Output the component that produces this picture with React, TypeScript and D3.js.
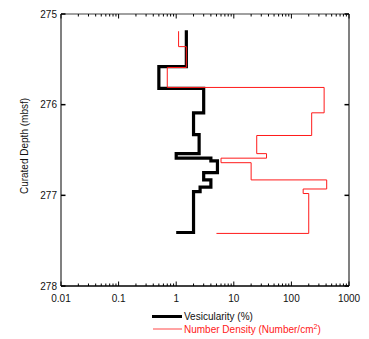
import React from "react";
import * as d3 from "d3";

// depth (mbsf) and vesicularity (%) - step profile
const vesDepth = [275.18, 275.58, 275.82, 276.09, 276.33, 276.54, 276.59, 276.62, 276.75, 276.83, 276.91, 276.96, 277.41];
const vesValue = [1.5, 0.5, 3, 2, 2.5, 1, 4, 5.2, 3, 4, 2.6, 2, 1];

// depth (mbsf) and number density (number/cm2)
const ndDepth = [275.19, 275.36, 275.59, 275.81, 276.09, 276.34, 276.54, 276.59, 276.64, 276.83, 276.93, 276.98, 277.42];
const ndValue = [1.1, 1.5, 0.7, 370, 225, 25, 37, 6, 20, 410, 160, 200, 5];

const xTicks = [0.01, 0.1, 1, 10, 100, 1000];
const xTickLabels = ["0.01", "0.1", "1", "10", "100", "1000"];
const yTicks = [275, 276, 277, 278];

const W = 369;
const H = 339;
const FONT = "'Liberation Sans', Arial, Helvetica, sans-serif";

export default function App() {
  const x = d3.scaleLog().domain([0.01, 1000]).range([61, 349]);
  const y = d3.scaleLinear().domain([275, 278]).range([14, 286]);

  const line = d3
    .line<[number, number]>()
    .x((d) => x(d[0]))
    .y((d) => y(d[1]))
    .curve(d3.curveStepBefore);

  const ves = line(vesValue.map((v, i) => [v, vesDepth[i]] as [number, number])) || "";
  const nd = line(ndValue.map((v, i) => [v, ndDepth[i]] as [number, number])) || "";

  // minor ticks on the log axis
  const minor: number[] = [];
  for (let e = -2; e < 3; e++) {
    for (let m = 2; m <= 9; m++) minor.push(m * Math.pow(10, e));
  }

  const [x0, x1] = x.range();
  const [y0, y1] = y.range();

  return (
    <svg
      width={W}
      height={H}
      style={{ position: "absolute", left: 0, top: 0, background: "#fff" }}
      fontFamily={FONT}
    >
      {/* frame */}
      <line x1={x0} x2={x0} y1={y0} y2={y1} stroke="#808080" strokeWidth={2} />
      <line x1={x1} x2={x1} y1={y0} y2={y1} stroke="#808080" strokeWidth={2} />
      <line x1={x0} x2={x1} y1={y0} y2={y0} stroke="#808080" strokeWidth={1.5} />
      <line x1={x0} x2={x1} y1={y1} y2={y1} stroke="#000" strokeWidth={1.5} />

      {/* x ticks top and bottom */}
      {minor.map((t) => (
        <g key={"m" + t}>
          <line x1={x(t)} x2={x(t)} y1={y0} y2={y0 + 2.5} stroke="#000" strokeWidth={1} />
          <line x1={x(t)} x2={x(t)} y1={y1} y2={y1 - 2.5} stroke="#000" strokeWidth={1} />
        </g>
      ))}
      {xTicks.map((t, i) => (
        <g key={"x" + t}>
          <line x1={x(t)} x2={x(t)} y1={y0} y2={y0 + 4.5} stroke="#000" strokeWidth={1} />
          <line x1={x(t)} x2={x(t)} y1={y1} y2={y1 - 4.5} stroke="#000" strokeWidth={1} />
          <text x={x(t)} y={y1 + 16} textAnchor="middle" fontSize={10} fill="#111">
            {xTickLabels[i]}
          </text>
        </g>
      ))}

      {/* y ticks */}
      {yTicks.map((t) => (
        <g key={"y" + t}>
          <line x1={x0} x2={x0 + 4.5} y1={y(t)} y2={y(t)} stroke="#000" strokeWidth={1.5} />
          <line x1={x1} x2={x1 - 4.5} y1={y(t)} y2={y(t)} stroke="#000" strokeWidth={1.5} />
          <text x={x0 - 4} y={y(t) + 3.5} textAnchor="end" fontSize={10} fill="#111">
            {t}
          </text>
        </g>
      ))}

      <text
        transform={`translate(28, ${(y0 + y1) / 2 - 4}) rotate(-90)`}
        textAnchor="middle"
        fontSize={10}
        fill="#111"
      >
        Curated Depth (mbsf)
      </text>

      {/* data */}
      <path d={ves} fill="none" stroke="#000" strokeWidth={3.2} strokeLinejoin="miter" />
      <path d={nd} fill="none" stroke="#ff1a1a" strokeWidth={1} />

      {/* legend */}
      <line x1={152} x2={182} y1={316.5} y2={316.5} stroke="#000" strokeWidth={3} />
      <text x={184} y={320} fontSize={10} fill="#111">
        Vesicularity (%)
      </text>
      <line x1={153} x2={182} y1={329} y2={329} stroke="#ff6666" strokeWidth={1.2} />
      <text x={184} y={332.5} fontSize={10} fill="#ff2020">
        Number Density (Number/cm<tspan dy={-3.5} fontSize={7}>2</tspan>
        <tspan dy={3.5}>)</tspan>
      </text>
    </svg>
  );
}
